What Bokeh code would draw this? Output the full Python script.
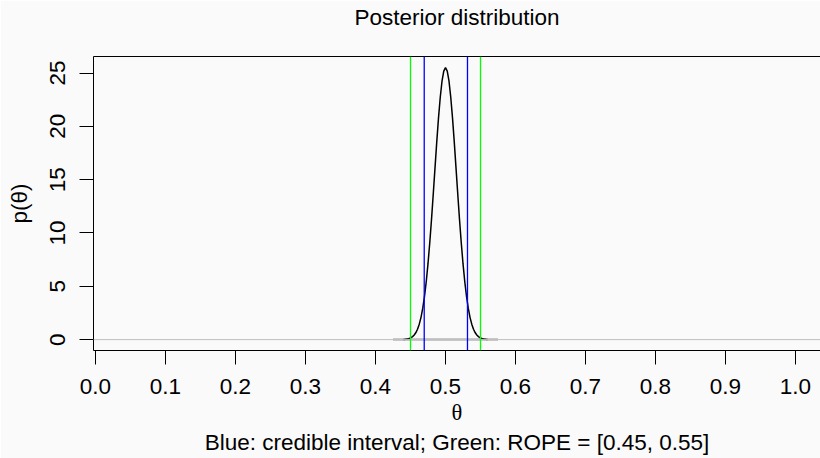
from bokeh.plotting import figure
from bokeh.models import Span, LinearAxis, FixedTicker, PrintfTickFormatter, Range1d, Title
from bokeh.embed import file_html
from bokeh.resources import INLINE

# ---- data ----
theta = [0.4400, 0.4425, 0.4450, 0.4475, 0.4500, 0.4525, 0.4550, 0.4575, 0.4600,
         0.4625, 0.4650, 0.4675, 0.4700, 0.4725, 0.4750, 0.4775, 0.4800, 0.4825,
         0.4850, 0.4875, 0.4900, 0.4925, 0.4950, 0.4975, 0.5000, 0.5025, 0.5050,
         0.5075, 0.5100, 0.5125, 0.5150, 0.5175, 0.5200, 0.5225, 0.5250, 0.5275,
         0.5300, 0.5325, 0.5350, 0.5375, 0.5400, 0.5425, 0.5450, 0.5475, 0.5500,
         0.5525, 0.5550, 0.5575, 0.5600]
density = [0.016, 0.03, 0.053, 0.092, 0.155, 0.255, 0.41, 0.64, 0.97,
           1.45, 2.09, 2.95, 4.06, 5.45, 7.12, 9.08, 11.27, 13.65,
           16.11, 18.54, 20.79, 22.73, 24.23, 25.18, 25.5, 25.18, 24.23,
           22.73, 20.79, 18.54, 16.11, 13.65, 11.27, 9.08, 7.12, 5.45,
           4.06, 2.95, 2.09, 1.45, 0.97, 0.64, 0.41, 0.255, 0.155,
           0.092, 0.053, 0.03, 0.016]
tail_x = [0.425, 0.575]
tail_y = [0.0, 0.0]
ci_limits = [0.4696, 0.5314]
rope_limits = [0.45, 0.55]
x_ticks = [0.0, 0.1, 0.2, 0.3, 0.4, 0.5, 0.6, 0.7, 0.8, 0.9, 1.0]
y_ticks = [0, 5, 10, 15, 20, 25]

title_text = "Posterior distribution"
x_label = "\u03b8"
y_label = "p(\u03b8)"
sub_text = "Blue: credible interval; Green: ROPE = [0.45, 0.55]"

FONT = "Liberation Sans"
FS = "22.5px"
BG = "#fafafa"

p = figure(width=820, height=458, output_backend="svg", toolbar_location=None,
           x_range=Range1d(-0.00286, 1.0357), y_range=Range1d(-1.02, 26.55),
           min_border_left=93, min_border_right=0, min_border_top=56,
           min_border_bottom=108, background_fill_color=BG, border_fill_color=BG,
           outline_line_color=None)
p.grid.visible = False

for ax in (p.xaxis[0], p.yaxis[0]):
    ax.axis_line_color = "black"
    ax.axis_line_width = 1
    ax.major_tick_line_color = "black"
    ax.major_tick_line_width = 1
    ax.major_tick_in = 0
    ax.major_tick_out = 14
    ax.minor_tick_line_color = None
    ax.major_label_text_font = FONT
    ax.major_label_text_font_size = FS
    ax.major_label_text_color = "black"
    ax.axis_label_text_font_size = FS
    ax.axis_label_text_font_style = "normal"
    ax.axis_label_text_color = "black"

p.xaxis[0].ticker = FixedTicker(ticks=x_ticks)
p.xaxis[0].formatter = PrintfTickFormatter(format="%.1f")
p.xaxis[0].major_label_standoff = 14
p.xaxis[0].axis_label = x_label
p.xaxis[0].axis_label_text_font = "Liberation Serif"
p.xaxis[0].axis_label_standoff = 3

p.yaxis[0].ticker = FixedTicker(ticks=y_ticks)
p.yaxis[0].major_label_orientation = "vertical"
p.yaxis[0].major_label_standoff = 14
p.yaxis[0].axis_label = y_label
p.yaxis[0].axis_label_text_font = FONT
p.yaxis[0].axis_label_standoff = 16

# top edge of the box; its label carries the main title
top = LinearAxis(ticker=FixedTicker(ticks=[]), axis_line_color="black",
                 major_tick_line_color=None, minor_tick_line_color=None,
                 major_tick_out=0, major_tick_in=0, major_label_standoff=0,
                 major_label_text_font_size="0px",
                 axis_label=title_text, axis_label_text_font=FONT,
                 axis_label_text_font_size=FS, axis_label_text_font_style="normal",
                 axis_label_text_color="black", axis_label_standoff=27)
p.add_layout(top, "above")

p.add_layout(Title(text=sub_text, align="center", text_font=FONT, text_font_size=FS,
                   text_font_style="normal", text_color="black", standoff=1), "below")

# grey tail at zero, curve
p.line(tail_x, tail_y, line_color="#c8c8c8", line_width=3)
p.line(theta, density, line_color="black", line_width=1.5)

p.add_layout(Span(location=0, dimension="width", line_color="#bebebe", line_width=1))
for v in ci_limits:
    p.add_layout(Span(location=v, dimension="height", line_color="#0000ff", line_width=1.3))
for v in rope_limits:
    p.add_layout(Span(location=v, dimension="height", line_color="#00ff00", line_width=1.3))

open("out.html", "w").write(file_html(p, INLINE))
